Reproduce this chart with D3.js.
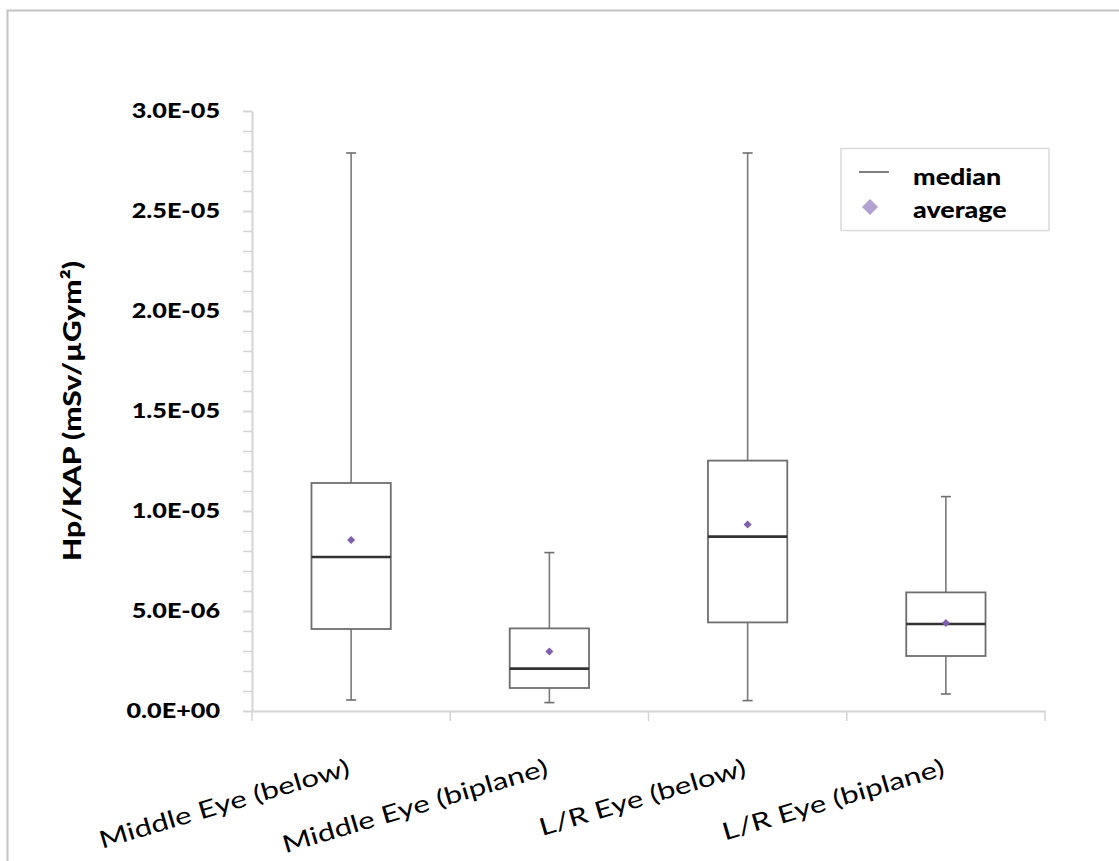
<!DOCTYPE html>
<html>
<head>
<meta charset="utf-8">
<script src="https://cdn.jsdelivr.net/npm/d3@7"></script>
<style>
  html, body { margin: 0; padding: 0; background: #fff; }
  svg { display: block; }
  text { font-family: Lato, "Open Sans", sans-serif; fill: #000; }
</style>
</head>
<body>
<svg id="chart" width="1119" height="861"></svg>
<script>
// ---- data ----
const categories = ["Middle Eye (below)", "Middle Eye (biplane)", "L/R Eye (below)", "L/R Eye (biplane)"];
const minVals    = [5.5e-7, 4.2e-7, 5.2e-7, 8.5e-7];
const q1Vals     = [4.10e-6, 1.15e-6, 4.43e-6, 2.75e-6];
const medianVals = [7.70e-6, 2.12e-6, 8.72e-6, 4.35e-6];
const q3Vals     = [1.140e-5, 4.13e-6, 1.252e-5, 5.93e-6];
const maxVals    = [2.79e-5, 7.92e-6, 2.79e-5, 1.072e-5];
const meanVals   = [8.55e-6, 2.98e-6, 9.32e-6, 4.40e-6];
const yMajorTicks = [0, 5e-6, 1e-5, 1.5e-5, 2e-5, 2.5e-5, 3e-5];
const yMinorTicks = d3.range(0, 31).map(i => i * 1e-6);
const yTitle = "Hp/KAP (mSv/µGym²)";
const legendLabels = ["median", "average"];

const svg = d3.select("#chart");

// outer chart border
svg.append("rect")
  .attr("x", 7.5).attr("y", 10.5)
  .attr("width", 1119).attr("height", 861)
  .attr("fill", "#fff").attr("stroke", "#c4c4c4").attr("stroke-width", 2);

const plot = { left: 252, right: 1045, top: 111, bottom: 711 };

const x = d3.scaleBand().domain(categories).range([plot.left, plot.right]).padding(0);
const y = d3.scaleLinear().domain([0, 3e-5]).range([plot.bottom, plot.top]);

const fmt = v => {
  if (v === 0) return "0.0E+00";
  const s = v.toExponential(1); // e.g. 1.5e-5
  const [m, e] = s.split("e");
  const n = parseInt(e, 10);
  return m + "E" + (n < 0 ? "-" : "+") + String(Math.abs(n)).padStart(2, "0");
};

// y axis minor ticks
const yMinor = svg.append("g")
  .attr("transform", `translate(${plot.left},0)`)
  .call(d3.axisLeft(y).tickValues(yMinorTicks).tickSize(9).tickFormat(""));
yMinor.select(".domain").remove();
yMinor.selectAll("line").attr("stroke", "#d4d4d4").attr("stroke-width", 1.5);

// y axis major ticks with labels
const yAxis = svg.append("g")
  .attr("transform", `translate(${plot.left},0)`)
  .call(d3.axisLeft(y).tickValues(yMajorTicks).tickSize(9).tickSizeOuter(0).tickPadding(23).tickFormat(fmt));
yAxis.select(".domain").attr("stroke", "#d4d4d4").attr("stroke-width", 2);
yAxis.selectAll("line").attr("stroke", "#d4d4d4").attr("stroke-width", 1.5);
yAxis.selectAll("text")
  .style("font-family", "Lato, sans-serif")
  .style("font-weight", "900")
  .style("font-size", "21px")
  .attr("fill", "#000")
  .each(function () {
    const w = this.getComputedTextLength();
    d3.select(this).attr("textLength", w * 1.2).attr("lengthAdjust", "spacingAndGlyphs");
  });

// x axis
const xAxis = svg.append("g")
  .attr("transform", `translate(0,${plot.bottom})`)
  .call(d3.axisBottom(x).tickValues([]).tickSizeOuter(0));
xAxis.select(".domain").attr("stroke", "#d4d4d4").attr("stroke-width", 2);
// category boundary ticks
const bounds = categories.map(c => x(c)).concat([x(categories[categories.length - 1]) + x.bandwidth()]);
xAxis.selectAll(".bound").data(bounds).enter().append("line")
  .attr("class", "bound")
  .attr("x1", d => d).attr("x2", d => d)
  .attr("y1", 0).attr("y2", 10)
  .attr("stroke", "#d4d4d4").attr("stroke-width", 1.5);

// x labels (rotated)
svg.append("g").selectAll("text").data(categories).enter().append("text")
  .attr("transform", d => `translate(${x(d) + x.bandwidth() / 2},775) rotate(-16.5)`)
  .attr("text-anchor", "end")
  .style("font-size", "24px")
  .text(d => d)
  .each(function () {
    const w = this.getComputedTextLength();
    d3.select(this).attr("textLength", w * 1.3).attr("lengthAdjust", "spacingAndGlyphs");
  });

// y title
svg.append("text")
  .attr("transform", `translate(81,${(plot.top + plot.bottom) / 2}) rotate(-90)`)
  .attr("text-anchor", "middle")
  .style("font-size", "24px")
  .style("font-weight", "900")
  .attr("textLength", 300)
  .attr("lengthAdjust", "spacingAndGlyphs")
  .text(yTitle);

// boxes
const boxW = x.bandwidth() * 0.4;
const capW = 10;
const g = svg.append("g");
categories.forEach((c, i) => {
  const cx = x(c) + x.bandwidth() / 2;
  const bg = g.append("g");
  // whiskers
  bg.append("line").attr("x1", cx).attr("x2", cx).attr("y1", y(maxVals[i])).attr("y2", y(q3Vals[i]))
    .attr("stroke", "#7a7a7a").attr("stroke-width", 1.6);
  bg.append("line").attr("x1", cx).attr("x2", cx).attr("y1", y(q1Vals[i])).attr("y2", y(minVals[i]))
    .attr("stroke", "#7a7a7a").attr("stroke-width", 1.6);
  bg.append("line").attr("x1", cx - capW / 2).attr("x2", cx + capW / 2).attr("y1", y(maxVals[i])).attr("y2", y(maxVals[i]))
    .attr("stroke", "#6e6e6e").attr("stroke-width", 1.6);
  bg.append("line").attr("x1", cx - capW / 2).attr("x2", cx + capW / 2).attr("y1", y(minVals[i])).attr("y2", y(minVals[i]))
    .attr("stroke", "#6e6e6e").attr("stroke-width", 1.6);
  // box
  bg.append("rect")
    .attr("x", cx - boxW / 2).attr("y", y(q3Vals[i]))
    .attr("width", boxW).attr("height", y(q1Vals[i]) - y(q3Vals[i]))
    .attr("fill", "none").attr("stroke", "#6e6e6e").attr("stroke-width", 1.8);
  // median
  bg.append("line")
    .attr("x1", cx - boxW / 2).attr("x2", cx + boxW / 2)
    .attr("y1", y(medianVals[i])).attr("y2", y(medianVals[i]))
    .attr("stroke", "#333").attr("stroke-width", 2.6);
  // mean diamond
  bg.append("path")
    .attr("transform", `translate(${cx},${y(meanVals[i])})`)
    .attr("d", "M0,-4L4,0L0,4L-4,0Z")
    .attr("fill", "#7f5fb0");
});

// legend
const lg = svg.append("g");
lg.append("rect").attr("x", 841).attr("y", 148.5).attr("width", 208).attr("height", 82)
  .attr("fill", "#fff").attr("stroke", "#dadada").attr("stroke-width", 1.5);
lg.append("line").attr("x1", 859).attr("x2", 889).attr("y1", 172).attr("y2", 172)
  .attr("stroke", "#555").attr("stroke-width", 1.5);
lg.append("path").attr("transform", "translate(870,207)").attr("d", "M0,-8L8,0L0,8L-8,0Z")
  .attr("fill", "#b3a2cf");
lg.selectAll(".lt").data(legendLabels).enter().append("text")
  .attr("class", "lt")
  .attr("x", 913).attr("y", (d, i) => 185 + i * 33)
  .style("font-size", "22px").style("font-weight", "900")
  .text(d => d)
  .each(function () {
    const w = this.getComputedTextLength();
    d3.select(this).attr("textLength", w * 1.22).attr("lengthAdjust", "spacingAndGlyphs");
  });
</script>
</body>
</html>
